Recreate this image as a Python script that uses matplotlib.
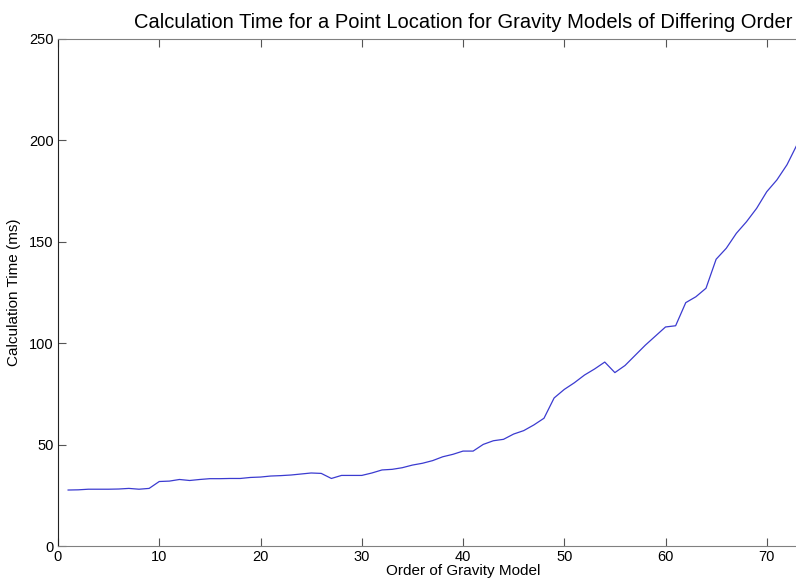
import numpy as np
import matplotlib.pyplot as plt

plt.rcParams['font.family'] = ['Liberation Sans', 'DejaVu Sans']

order = list(range(1, 74))
calc_time = [27.6, 27.7, 28.0, 28.0, 28.0, 28.1, 28.4, 28.0, 28.4, 31.8,
             32.0, 32.8, 32.3, 32.8, 33.2, 33.2, 33.3, 33.3, 33.8, 34.0,
             34.5, 34.7, 35.0, 35.5, 36.0, 35.8, 33.3, 34.8, 34.8, 34.8,
             36.0, 37.5, 37.8, 38.6, 39.9, 40.8, 42.1, 44.0, 45.2, 46.8,
             46.8, 50.1, 51.9, 52.6, 55.2, 56.9, 59.7, 63.0, 73.0, 77.2,
             80.5, 84.3, 87.3, 90.7, 85.5, 89.0, 94.0, 99.0, 103.5, 108.0,
             108.6, 120.0, 122.9, 127.1, 141.4, 146.8, 154.2, 159.9, 166.5, 174.7,
             180.5, 188.0, 198.0]
x_ticks = [0, 10, 20, 30, 40, 50, 60, 70, 80]
# the 80 label falls outside the cropped picture
x_ticklabels = ['0', '10', '20', '30', '40', '50', '60', '70', '']

fig = plt.figure(figsize=(7.96, 5.8), dpi=100)
# axes run past the right edge of the picture (cropped MATLAB figure)
ax = fig.add_axes([58/796, 34/580, 810/796, 507/580])

ax.plot(order, calc_time, color='#3b3bd0', linewidth=0.9)

ax.set_xlim(0, 80)
ax.set_ylim(0, 250)
ax.set_xticks(x_ticks)
ax.set_xticklabels(x_ticklabels)
ax.set_yticks(np.arange(0, 251, 50))
ax.tick_params(direction='in', length=6, width=0.8, labelsize=10.5, pad=3,
               top=True, right=True, colors='#555555', labelcolor='black')
for side in ['top', 'bottom']:
    ax.spines[side].set_color('#808080')
ax.spines['left'].set_color('#222222')
ax.spines['right'].set_color('#808080')

ax.set_xlabel('Order of Gravity Model', fontsize=11, labelpad=0)
ax.set_ylabel('Calculation Time (ms)', fontsize=11, labelpad=6)
ax.set_title('Calculation Time for a Point Location for Gravity Models of Differing Order',
             fontsize=14.5, pad=8)

plt.savefig('out.png', dpi=100)
